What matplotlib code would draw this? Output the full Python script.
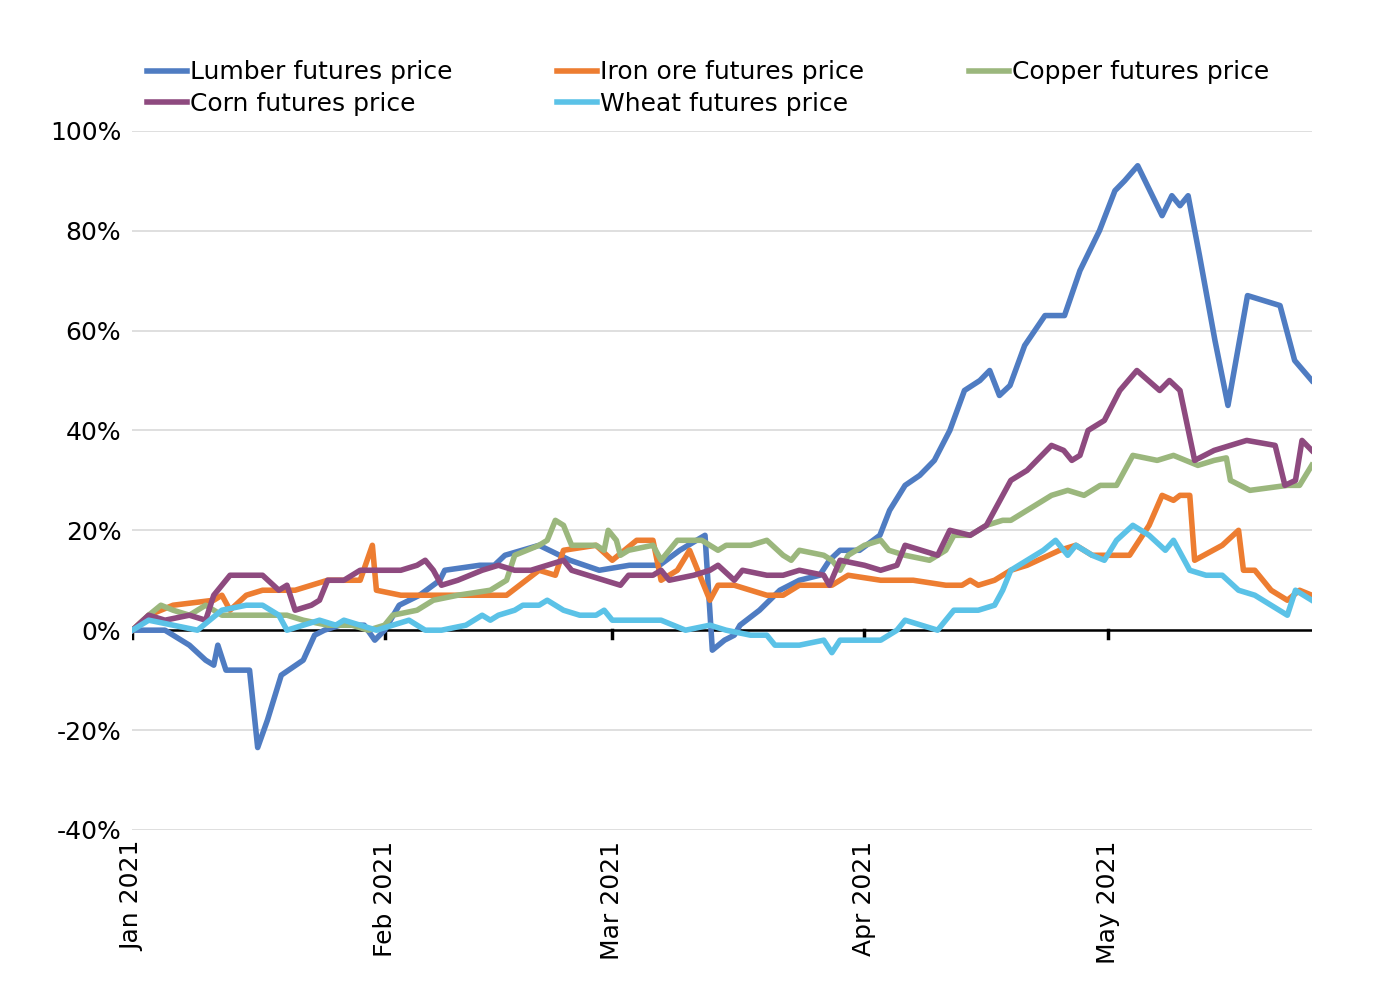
import numpy as np
from matplotlib import pyplot as plt


# Price change since Jan 1 2021 (%), keyed by days since Jan 1
SERIES = {
    'Lumber futures price': ('#4f7cc2', [
        (0, 0), (4, 0), (7, -3), (9, -6), (10, -7), (10.5, -3), (11.5, -8), (14.4, -8), (15.4, -23.5),
        (16.6, -18), (18.3, -9), (21, -6), (22.4, -1), (23.6, 0), (25.5, 1), (28.5, 1), (29.8, -2),
        (31, 0), (32.8, 5), (35.3, 7), (37.8, 10), (38.4, 12), (42.7, 13), (44.5, 13), (45.8, 15),
        (50, 17), (53.8, 14), (57.4, 12), (61.1, 13), (64.8, 13), (67.3, 16), (70.4, 19), (71.3, -4),
        (72.8, -2), (74, -1), (74.7, 1), (77.1, 4), (79.6, 8), (82, 10), (84.5, 11), (85.7, 14),
        (87, 16), (89.4, 16), (91.9, 19), (93.1, 24), (95, 29), (96.8, 31), (98.6, 34), (100.5, 40),
        (102.3, 48), (104.2, 50), (105.4, 52), (106.6, 47), (107.9, 49), (109.7, 57), (112.2, 63),
        (114.6, 63), (116.5, 72), (118.9, 80), (120.8, 88), (122, 90), (123.6, 93), (125.1, 88),
        (126.6, 83), (127.8, 87), (128.8, 85), (129.8, 87), (131.2, 75), (133.1, 58), (134.7, 45),
        (137.1, 67), (141.1, 65), (142.9, 54), (145, 50)]),
    'Iron ore futures price': ('#ed7d31', [
        (0, 0), (2, 3), (5, 5), (10, 6), (11, 7), (12, 4), (14, 7), (16, 8), (20, 8), (22, 9), (24, 10),
        (28, 10), (29.5, 17), (30, 8), (33, 7), (37, 7), (42, 7), (46, 7), (50, 12), (52, 11), (53, 16),
        (57, 17), (59, 14), (62, 18), (64, 18), (65, 10), (67, 12), (68.5, 16), (70, 10), (71, 6),
        (72, 9), (74, 9), (76, 8), (78, 7), (80, 7), (82, 9), (86, 9), (88, 11), (92, 10), (96, 10),
        (100, 9), (102, 9), (103, 10), (104, 9), (106, 10), (108, 12), (110, 13), (114, 16), (116, 17),
        (118, 15), (121, 15), (122.6, 15), (125, 21), (126.6, 27), (128, 26), (128.8, 27), (130, 27),
        (130.6, 14), (134, 17), (136, 20), (136.6, 12), (138, 12), (140, 8), (142, 6), (143.5, 8), (145, 7)]),
    'Copper futures price': ('#9bb77d', [
        (0, 0), (2, 3), (3.5, 5), (5, 4), (7, 3), (9, 5), (11, 3), (14, 3), (17, 3), (19, 3), (21, 2),
        (24, 1), (27, 1), (29, 0), (31, 1), (32, 3), (35, 4), (37, 6), (40, 7), (44, 8), (46, 10),
        (47, 15), (50, 17), (51, 18), (52, 22), (53, 21), (54, 17), (57, 17), (58, 16), (58.5, 20),
        (59.5, 18), (60, 15), (61, 16), (64, 17), (65, 14), (67, 18), (70, 18), (72, 16), (73, 17),
        (76, 17), (78, 18), (80, 15), (81, 14), (82, 16), (85, 15), (86, 14), (87, 12), (88, 15),
        (90, 17), (92, 18), (93, 16), (95, 15), (98, 14), (100, 16), (101, 19), (103, 19), (105, 21),
        (107, 22), (108, 22), (110, 24), (113, 27), (115, 28), (117, 27), (119, 29), (121, 29),
        (123, 35), (126, 34), (128, 35), (131, 33), (133, 34), (134.5, 34.5), (135, 30), (137.4, 28),
        (142, 29), (143.5, 29), (145, 33)]),
    'Corn futures price': ('#8e4a7f', [
        (0, 0), (2, 3), (4, 2), (7, 3), (9, 2), (10, 7), (12, 11), (14, 11), (16, 11), (18, 8), (19, 9),
        (20, 4), (22, 5), (23, 6), (24, 10), (26, 10), (28, 12), (31, 12), (33, 12), (35, 13), (36, 14),
        (37, 12), (38, 9), (40, 10), (43, 12), (45, 13), (47, 12), (49, 12), (51, 13), (53, 14), (54, 12),
        (56, 11), (58, 10), (60, 9), (61, 11), (64, 11), (65, 12), (66, 10), (69, 11), (71, 12), (72, 13),
        (74, 10), (75, 12), (78, 11), (80, 11), (82, 12), (85, 11), (85.7, 9), (87, 14), (90, 13),
        (92, 12), (94, 13), (95, 17), (97, 16), (99, 15), (100.5, 20), (103, 19), (105, 21), (108, 30),
        (110, 32), (113, 37), (114.5, 36), (115.5, 34), (116.5, 35), (117.5, 40), (119.5, 42),
        (121.4, 48), (123.5, 52), (126.3, 48), (127.5, 50), (128.8, 48), (130.6, 34), (133, 36),
        (135, 37), (137, 38), (140.5, 37), (141.7, 29), (143, 30), (143.8, 38), (145, 36)]),
    'Wheat futures price': ('#5bc2e7', [
        (0, 0), (2, 2), (5, 1), (8, 0), (11, 4), (14, 5), (16, 5), (18, 3), (19, 0), (21, 1), (23, 2),
        (25, 1), (26, 2), (28, 1), (30, 0), (32, 1), (34, 2), (36, 0), (38, 0), (41, 1), (43, 3), (44, 2),
        (45, 3), (47, 4), (48, 5), (50, 5), (51, 6), (53, 4), (55, 3), (57, 3), (58, 4), (59, 2), (62, 2),
        (65, 2), (68, 0), (71, 1), (73, 0), (76, -1), (78, -1), (79, -3), (82, -3), (85, -2), (86, -4.5),
        (87, -2), (89, -2), (92, -2), (94, 0), (95, 2), (97, 1), (99, 0), (101, 4), (104, 4), (106, 5),
        (107, 8), (108, 12), (110, 14), (112, 16), (113.5, 18), (115, 15), (116, 17), (118, 15),
        (119.5, 14), (121, 18), (123, 21), (125, 19), (127, 16), (128, 18), (130, 12), (132, 11),
        (134, 11), (136, 8), (138, 7), (140, 5), (142, 3), (143, 8), (145, 6)]),
}

MONTHS = [(0, 'Jan 2021'), (31, 'Feb 2021'), (59, 'Mar 2021'), (90, 'Apr 2021'), (120, 'May 2021')]


def create_plot():
    """
        Draws the commodity futures price change chart
    """
    fig = plt.figure(figsize=(13.94, 10.06), dpi=100)
    ax = fig.add_axes([0.095, 0.175, 0.846, 0.695])

    for name, (color, points) in SERIES.items():
        pts = np.array(points)
        ax.plot(pts[:, 0], pts[:, 1], color=color, linewidth=4, label=name)

    ax.set_xlim(0, 145)
    ax.set_ylim(-40, 100)
    ax.set_yticks(np.arange(-40, 101, 20))
    ax.set_yticklabels(['%d%%' % v for v in np.arange(-40, 101, 20)], fontsize=18)
    ax.grid(axis='y', color='#d9d9d9', linewidth=1.2)
    ax.set_axisbelow(True)
    ax.axhline(0, color='black', linewidth=1.8, zorder=1.5)
    for day, _ in MONTHS:
        ax.plot([day, day], [0, -1.6], color='black', linewidth=2.5, zorder=1.5)

    ax.set_xticks([m[0] for m in MONTHS])
    ax.set_xticklabels([m[1] for m in MONTHS], rotation=90, fontsize=18, va='top')
    ax.tick_params(axis='both', length=0, pad=8)
    for spine in ax.spines.values():
        spine.set_visible(False)

    handles, labels = ax.get_legend_handles_labels()
    order = [0, 3, 1, 4, 2]
    ax.legend([handles[i] for i in order], [labels[i] for i in order], ncol=3, frameon=False,
              fontsize=18, loc='lower left', bbox_to_anchor=(0.0, 1.0), handlelength=1.6,
              handletextpad=0.1, columnspacing=4.2, labelspacing=0.3, borderaxespad=0.2)

    plt.savefig('out.png')


def main():
    create_plot()


if __name__ == "__main__":
    main()
